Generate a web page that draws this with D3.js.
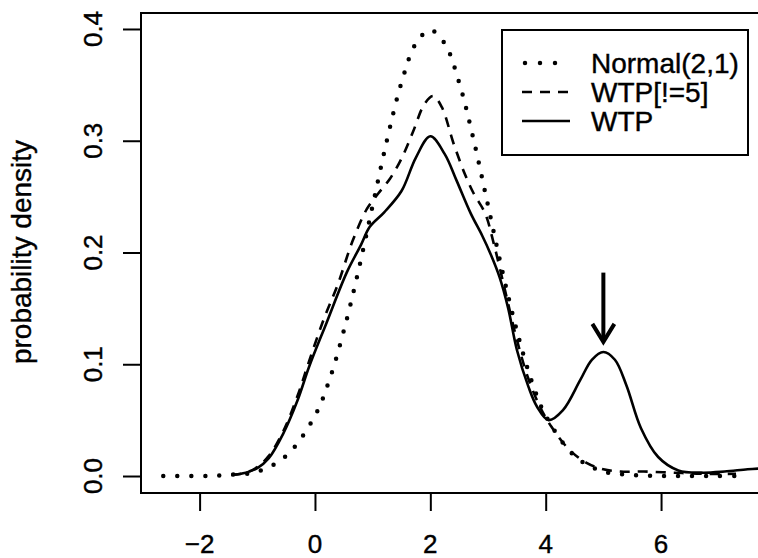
<!DOCTYPE html>

<head>
  <meta charset="utf-8">
  <script src="https://d3js.org/d3.v7.min.js"></script>
  <style>
    body {
      margin: 0;
      background: #fff;
    }

    text {
      font-family: "Liberation Sans", Arial, Helvetica, sans-serif;
      fill: #000;
      stroke: #000;
      stroke-width: 0.4px;
    }

    text.tickLabel {
      font-size: 26px;
    }

    text.yTitle {
      font-size: 28px;
    }

    text.legendText {
      font-size: 28px;
    }

    .curve {
      fill: none;
      stroke: #000;
    }
  </style>
</head>

<body>
  <script>
    var width = 758;
    var height = 558;

    // x ticks and y ticks
    const xTicks = [-2, 0, 2, 4, 6];
    const yTicks = [0.0, 0.1, 0.2, 0.3, 0.4];

    // Normal(2,1), dotted
    const normalX = [-2.63, -2, -1.5, -1, -0.5, 0, 0.25, 0.5, 0.75, 1, 1.25, 1.5, 1.75, 2,
      2.25, 2.5, 2.75, 3, 3.25, 3.5, 3.75, 4, 4.5, 5, 5.5, 6, 6.5, 7, 7.33];
    const normalY = [0.000, 0.000, 0.001, 0.004, 0.018, 0.054, 0.086, 0.130, 0.183, 0.242, 0.301, 0.352, 0.387, 0.399,
      0.387, 0.352, 0.301, 0.242, 0.183, 0.130, 0.086, 0.054, 0.018, 0.004, 0.001, 0.000, 0.000, 0.000, 0.000];

    // WTP[!=5], dashed
    const wtpNo5X = [-1.45, -1.2, -1.0, -0.8, -0.55, -0.3, -0.1, 0.15, 0.4, 0.65, 0.9, 1.1, 1.3, 1.5, 1.7, 1.9,
      2.05, 2.2, 2.4, 2.6, 2.75, 2.95, 3.1, 3.3, 3.5, 3.7, 3.9, 4.1, 4.4, 4.7, 5.0, 5.3, 5.7, 6.2, 6.7, 7.3];
    const wtpNo5Y = [0.001, 0.003, 0.008, 0.018, 0.040, 0.072, 0.103, 0.140, 0.172, 0.210, 0.239, 0.253, 0.266, 0.284, 0.308, 0.333,
      0.340, 0.330, 0.298, 0.270, 0.253, 0.235, 0.208, 0.165, 0.122, 0.087, 0.062, 0.044, 0.024, 0.012, 0.006, 0.004, 0.004, 0.003, 0.002, 0.002];

    // WTP, solid
    const wtpX = [-1.45, -1.2, -1.0, -0.8, -0.55, -0.3, -0.1, 0.2, 0.55, 0.8, 0.95, 1.2, 1.5, 1.75, 2.0, 2.25, 2.45,
      2.7, 2.9, 3.05, 3.2, 3.35, 3.5, 3.7, 3.85, 4.05, 4.3, 4.6, 4.8, 5.0, 5.2, 5.4, 5.65, 5.95, 6.3, 6.7, 7.1, 7.5, 7.8];
    const wtpY = [0.001, 0.003, 0.007, 0.016, 0.038, 0.068, 0.098, 0.137, 0.182, 0.207, 0.223, 0.236, 0.255, 0.285, 0.304, 0.288, 0.265,
      0.235, 0.215, 0.198, 0.178, 0.150, 0.113, 0.080, 0.062, 0.050, 0.059, 0.086, 0.104, 0.111, 0.104, 0.081, 0.043, 0.017, 0.005, 0.003, 0.004, 0.006, 0.007];

    // arrow pointing at the WTP = 5 bump
    const arrowX = 5;
    const arrowFrom = 0.182;
    const arrowTo = 0.12;

    const legendLabels = ["Normal(2,1)", "WTP[!=5]", "WTP"];
    const legendDash = ["0 15", "10 8", null];

    const margin = { top: 13, right: -4, bottom: 65, left: 141 };

    var svg = d3.select("body").append("svg")
      .attr("width", width)
      .attr("height", height);

    let x = d3.scaleLinear()
      .domain([-3.016, 7.75])
      .range([margin.left, width - margin.right]);

    let y = d3.scaleLinear()
      .domain([-0.0152, 0.4143])
      .range([height - margin.bottom, margin.top]);

    // plot box
    svg.append("rect")
      .attr("x", margin.left)
      .attr("y", margin.top)
      .attr("width", x.range()[1] - margin.left)
      .attr("height", y.range()[0] - margin.top)
      .style("fill", "none")
      .style("stroke", "#000")
      .style("stroke-width", 2);

    // x axis
    let xAxis = svg.append("g")
      .attr("transform", `translate(0, ${y.range()[0]})`)
      .call(d3.axisBottom(x).tickValues(xTicks).tickSize(18).tickFormat(""));
    xAxis.select(".domain").remove();
    xAxis.selectAll(".tick line").style("stroke-width", 2);

    svg.selectAll("text.xTick")
      .data(xTicks)
      .enter()
      .append("text")
      .attr("class", "tickLabel xTick")
      .attr("x", d => x(d))
      .attr("y", 553)
      .style("text-anchor", "middle")
      .text(d => d < 0 ? "\u2212" + Math.abs(d) : d);

    // y axis
    let yAxis = svg.append("g")
      .attr("transform", `translate(${margin.left}, 0)`)
      .call(d3.axisLeft(y).tickValues(yTicks).tickSize(18).tickFormat(""));
    yAxis.select(".domain").remove();
    yAxis.selectAll(".tick line").style("stroke-width", 2);

    svg.selectAll("text.yTick")
      .data(yTicks)
      .enter()
      .append("text")
      .attr("class", "tickLabel yTick")
      .attr("transform", d => `translate(102, ${y(d)}) rotate(-90)`)
      .style("text-anchor", "middle")
      .text(d => d3.format(".1f")(d));

    svg.append("text")
      .attr("class", "yTitle")
      .attr("transform", `translate(31, 252) rotate(-90)`)
      .style("text-anchor", "middle")
      .text("probability density");

    // curves
    const line = d3.line()
      .x(d => x(d[0]))
      .y(d => y(d[1]))
      .curve(d3.curveCatmullRom.alpha(0.5));

    svg.append("path")
      .attr("class", "curve")
      .attr("d", line(d3.zip(normalX, normalY)))
      .style("stroke-width", 4.5)
      .style("stroke-linecap", "round")
      .style("stroke-dasharray", "0 14");

    svg.append("path")
      .attr("class", "curve")
      .attr("d", line(d3.zip(wtpNo5X, wtpNo5Y)))
      .style("stroke-width", 2.6)
      .style("stroke-dasharray", "10 8");

    svg.append("path")
      .attr("class", "curve")
      .attr("d", line(d3.zip(wtpX, wtpY)))
      .style("stroke-width", 2.6);

    // arrow
    const ax = x(arrowX);
    const ay0 = y(arrowFrom);
    const ay1 = y(arrowTo);
    svg.append("line")
      .attr("x1", ax).attr("x2", ax)
      .attr("y1", ay0).attr("y2", ay1 - 2)
      .style("stroke", "#000")
      .style("stroke-width", 4);
    svg.append("path")
      .attr("d", `M${ax - 11},${ay1 - 18} L${ax},${ay1} L${ax + 11},${ay1 - 18}`)
      .style("fill", "none")
      .style("stroke", "#000")
      .style("stroke-width", 4)
      .style("stroke-linejoin", "miter");

    // legend
    let legend = svg.append("g");
    legend.append("rect")
      .attr("x", 502)
      .attr("y", 30)
      .attr("width", 246)
      .attr("height", 125)
      .style("fill", "#fff")
      .style("stroke", "#000")
      .style("stroke-width", 2);

    let rows = legend.selectAll("g.row")
      .data(legendLabels)
      .enter()
      .append("g")
      .attr("class", "row")
      .attr("transform", (d, i) => `translate(0, ${63 + i * 29})`);

    rows.append("line")
      .attr("x1", (d, i) => i == 0 ? 525 : 522)
      .attr("x2", 570)
      .attr("y1", 0)
      .attr("y2", 0)
      .style("stroke", "#000")
      .style("stroke-width", (d, i) => i == 0 ? 4.5 : 2.6)
      .style("stroke-linecap", (d, i) => i == 0 ? "round" : "butt")
      .style("stroke-dasharray", (d, i) => legendDash[i]);

    rows.append("text")
      .attr("class", "legendText")
      .attr("x", 591)
      .attr("y", 10)
      .text(d => d);
  </script>
</body>
